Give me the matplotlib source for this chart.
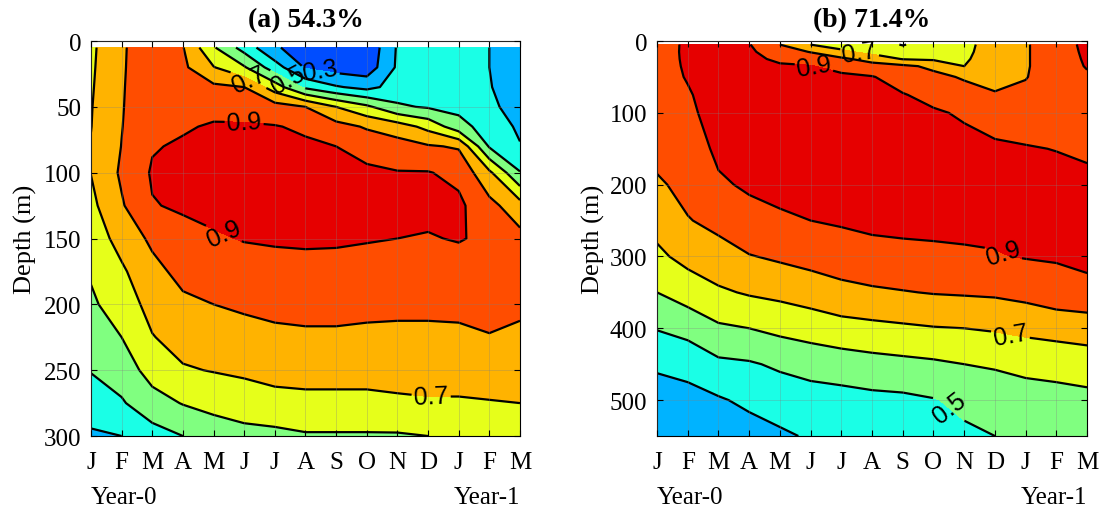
import numpy as np
import matplotlib
matplotlib.use("Agg")
from matplotlib import pyplot as plt

plt.rcParams['font.family'] = 'Liberation Serif'

MONTHS = ['J', 'F', 'M', 'A', 'M', 'J', 'J', 'A', 'S', 'O', 'N', 'D', 'J', 'F', 'M']

# panel (a): depth rows (m), one column of values per month (J ... M)
depth_a = [5, 20, 35, 50, 65, 80, 100, 125, 150, 175, 200, 225, 250, 275, 300]
cols_a = [
    [.68, .685, .69, .695, .698, .705, .702, .675, .645, .61, .585, .55, .505, .45, .385],
    [.79, .79, .792, .794, .797, .802, .815, .79, .735, .685, .645, .60, .545, .49, .40],
    [.85, .86, .865, .87, .88, .893, .91, .895, .82, .77, .735, .695, .64, .56, .46],
    [.805, .82, .84, .865, .89, .912, .93, .912, .87, .83, .78, .74, .69, .605, .50],
    [.61, .705, .82, .87, .91, .93, .94, .925, .89, .85, .80, .755, .705, .625, .555],
    [.46, .61, .80, .865, .91, .935, .945, .93, .905, .86, .815, .765, .715, .655, .565],
    [.31, .445, .65, .84, .905, .93, .945, .935, .91, .87, .825, .78, .735, .665, .575],
    [.26, .29, .48, .80, .885, .915, .935, .935, .912, .875, .83, .785, .735, .675, .59],
    [.24, .255, .41, .70, .835, .90, .925, .93, .91, .875, .83, .785, .735, .675, .59],
    [.22, .24, .37, .62, .79, .86, .92, .92, .905, .87, .825, .78, .735, .675, .59],
    [.41, .415, .44, .515, .75, .84, .905, .915, .90, .865, .82, .78, .735, .685, .59],
    [.45, .455, .465, .49, .67, .81, .905, .92, .895, .86, .82, .78, .74, .69, .60],
    [.45, .455, .465, .47, .54, .79, .875, .92, .905, .865, .825, .78, .74, .69, .62],
    [.40, .40, .405, .415, .45, .49, .72, .83, .885, .865, .835, .795, .745, .695, .63],
    [.33, .34, .35, .37, .385, .405, .505, .74, .83, .845, .82, .78, .74, .70, .64],
]

# panel (b)
depth_b = [5, 15, 25, 35, 50, 75, 100, 150, 200, 250, 300, 350, 400, 450, 500, 550]
cols_b = [
    [.86, .862, .864, .866, .868, .87, .865, .835, .785, .735, .68, .60, .505, .415, .355, .30],
    [.915, .915, .913, .91, .905, .893, .885, .86, .83, .795, .73, .645, .535, .43, .37, .32],
    [.93, .932, .934, .935, .935, .935, .93, .915, .89, .825, .765, .685, .585, .48, .39, .34],
    [.905, .915, .92, .925, .93, .935, .935, .93, .91, .875, .795, .71, .60, .49, .42, .36],
    [.80, .85, .885, .91, .925, .935, .94, .935, .92, .89, .815, .725, .625, .515, .445, .385],
    [.70, .795, .86, .905, .92, .93, .935, .935, .925, .90, .835, .745, .645, .535, .46, .41],
    [.66, .72, .82, .875, .915, .93, .935, .935, .93, .91, .855, .77, .665, .55, .465, .43],
    [.64, .67, .76, .84, .905, .925, .935, .935, .93, .92, .87, .785, .675, .565, .475, .45],
    [.595, .64, .695, .82, .86, .905, .925, .935, .93, .92, .88, .795, .685, .575, .48, .465],
    [.64, .66, .685, .78, .825, .875, .91, .93, .93, .92, .885, .805, .695, .585, .495, .48],
    [.67, .675, .685, .70, .79, .84, .89, .925, .93, .92, .89, .81, .70, .60, .52, .485],
    [.75, .755, .76, .765, .78, .805, .86, .915, .925, .92, .895, .815, .71, .61, .545, .50],
    [.79, .79, .79, .79, .795, .825, .86, .905, .925, .925, .905, .83, .725, .625, .56, .515],
    [.86, .86, .86, .86, .86, .865, .875, .898, .925, .93, .91, .855, .74, .63, .57, .53],
    [.92, .915, .91, .905, .89, .875, .87, .89, .915, .925, .93, .865, .75, .645, .575, .54],
]

titles = ['(a) 54.3%', '(b) 71.4%']

# label spots (month, depth)
labels_a = [(5.0, 61), (4.3, 148), (11.1, 272), (5.2, 27), (6.4, 30), (7.5, 20)]
labels_b = [(5.1, 39), (6.6, 14), (11.2, 302), (11.5, 410), (9.5, 512)]

# jet-like band colours, one per 0.1 step from 0.0 to 1.0
band_colors = ['#000080', '#0000E6', '#004DFF', '#00B3FF', '#1AFFE6',
               '#80FF80', '#E6FF1A', '#FFB300', '#FF4D00', '#E60000']
levels = np.round(np.arange(0, 1.01, 0.1), 1)
line_levels = levels[1:-1]

fig = plt.figure(figsize=(11.08, 5.10), dpi=100)
ax_a = fig.add_axes([0.0821, 0.1431, 0.3872, 0.7745])
ax_b = fig.add_axes([0.5930, 0.1431, 0.3881, 0.7745])

panels = [
    (ax_a, depth_a, cols_a, 300, [0, 50, 100, 150, 200, 250, 300], labels_a, -0.125),
    (ax_b, depth_b, cols_b, 550, [0, 100, 200, 300, 400, 500], labels_b, -0.12),
]

for i, (ax, depth, cols, ymax, yticks, lab_pos, ylab_x) in enumerate(panels):
    z = np.array(cols).T
    x = np.arange(len(MONTHS))
    ax.contourf(x, depth, z, levels=levels, colors=band_colors)
    cs = ax.contour(x, depth, z, levels=line_levels, colors='k', linewidths=1.6)
    txts = ax.clabel(cs, fmt='%.1f', manual=lab_pos, inline=True, fontsize=18,
                     inline_spacing=4)
    for t in txts:
        t.set_fontfamily('Liberation Sans')

    ax.set_xlim(0, len(MONTHS) - 1)
    ax.set_ylim(ymax, 0)
    ax.set_xticks(x)
    ax.set_xticklabels(MONTHS)
    ax.set_yticks(yticks)
    ax.tick_params(direction='in', top=True, right=True, length=4,
                   labelsize=18, width=0.8)
    ax.tick_params(axis='x', pad=11)
    ax.tick_params(axis='y', pad=7)
    ax.grid(True, color='gray', alpha=0.35, linewidth=0.6)
    ax.set_axisbelow(False)
    ax.set_title(titles[i], fontsize=20, fontweight='bold', pad=11)
    ax.set_ylabel('Depth (m)', fontsize=19)
    ax.yaxis.set_label_coords(ylab_x, 0.5)
    ax.text(0, -0.155, 'Year-0', transform=ax.transAxes, ha='left', va='center', fontsize=18)
    ax.text(1, -0.155, 'Year-1', transform=ax.transAxes, ha='right', va='center', fontsize=18)

fig.savefig('out.png', dpi=100)
